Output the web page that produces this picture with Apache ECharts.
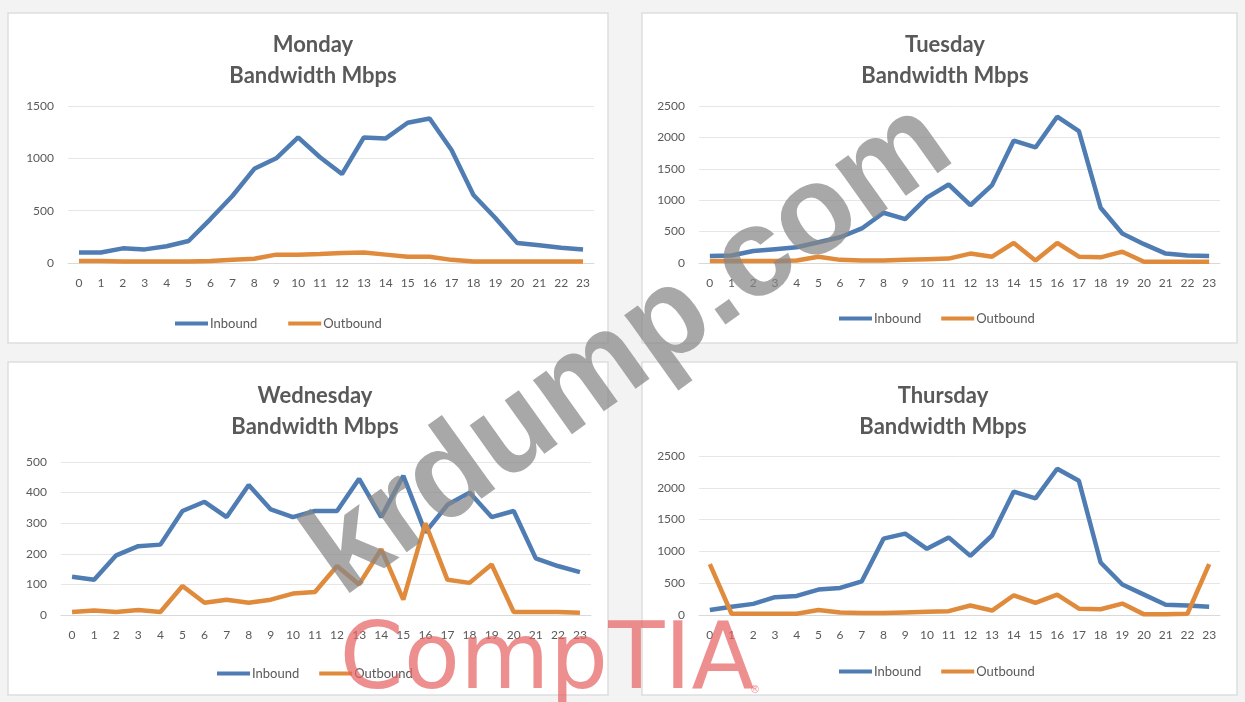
<!DOCTYPE html>
<html>
<head>
<meta charset="utf-8">
<script src="https://cdn.jsdelivr.net/npm/echarts@6/dist/echarts.min.js"></script>
<style>
  html, body { margin: 0; padding: 0; background: #f3f3f3; }
  #main { width: 1245px; height: 702px; }
</style>
</head>
<body>
<div id="main"></div>
<script>
// hours 0..23
var hours = ['0','1','2','3','4','5','6','7','8','9','10','11','12','13','14','15','16','17','18','19','20','21','22','23'];

var mondayIn  = [100,100,140,130,160,210,420,640,900,1000,1200,1010,850,1200,1190,1340,1380,1080,650,430,190,170,145,130];
var mondayOut = [20,20,15,15,15,15,20,30,40,80,80,85,95,100,80,60,60,30,15,15,15,15,15,15];

var tuesdayIn  = [110,120,190,220,250,330,410,550,800,700,1040,1250,920,1240,1950,1840,2330,2100,880,470,300,150,120,110];
var tuesdayOut = [30,30,30,30,40,100,50,40,40,50,60,70,150,100,320,40,320,100,90,180,20,20,20,20];

var wednesdayIn  = [125,115,195,225,230,340,370,320,425,345,320,340,340,445,320,455,270,360,400,320,340,185,160,140];
var wednesdayOut = [10,15,10,16,10,95,40,50,40,50,70,75,160,100,215,50,300,115,105,165,10,10,10,7];

var thursdayIn  = [80,130,175,280,300,400,425,530,1200,1280,1040,1220,930,1250,1940,1835,2300,2110,825,480,320,160,150,130];
var thursdayOut = [800,20,20,20,20,80,40,30,30,40,50,60,150,70,310,190,320,100,90,180,10,10,20,800];

var blue = '#4f7db3';
var orange = '#e08a3c';
var grey = '#595959';

var panels = [
    {name:'Monday',    inb:mondayIn,    outb:mondayOut,    max:1500, step:500, grid:{left:68, width:526, top:106, height:157}, box:[8,13,600,330],   legendLeft:170, legendTop:312, legendGap:31, titleX:308, titleTop:24},
    {name:'Tuesday',   inb:tuesdayIn,   outb:tuesdayOut,   max:2500, step:500, grid:{left:699, width:521, top:106, height:157}, box:[642,13,595,330], legendLeft:834, legendTop:307, legendGap:20, titleX:940, titleTop:24},
    {name:'Wednesday', inb:wednesdayIn, outb:wednesdayOut, max:500,  step:100, grid:{left:61, width:530, top:462, height:153}, box:[8,362,600,333],  legendLeft:212, legendTop:662, legendGap:20, titleX:310, titleTop:375},
    {name:'Thursday',  inb:thursdayIn,  outb:thursdayOut,  max:2500, step:500, grid:{left:699, width:521, top:456, height:159}, box:[642,362,595,333], legendLeft:834, legendTop:660, legendGap:20, titleX:938, titleTop:375}
];

var grids = [], xAxes = [], yAxes = [], series = [], titles = [], legends = [], boxes = [];

panels.forEach(function (p, i) {
    grids.push(p.grid);
    xAxes.push({
        type: 'category',
        gridIndex: i,
        data: hours,
        boundaryGap: true,
        axisLine: {lineStyle: {color: '#d9d9d9'}},
        axisTick: {show: false},
        axisLabel: {color: grey, fontSize: 12, margin: 14, interval: 0, fontFamily: 'Lato'}
    });
    yAxes.push({
        type: 'value',
        gridIndex: i,
        min: 0,
        max: p.max,
        interval: p.step,
        axisLine: {show: false},
        axisTick: {show: false},
        splitLine: {lineStyle: {color: '#e6e6e6'}},
        axisLabel: {
            color: grey, fontSize: 12, margin: 14, fontFamily: 'Lato',
            formatter: function (v) { return String(v); }
        }
    });
    series.push({
        name: 'Inbound', type: 'line', xAxisIndex: i, yAxisIndex: i,
        data: p.inb, symbol: 'none', lineStyle: {width: 4.5, color: blue}, itemStyle: {color: blue}
    });
    series.push({
        name: 'Outbound', type: 'line', xAxisIndex: i, yAxisIndex: i,
        data: p.outb, symbol: 'none', lineStyle: {width: 4.5, color: orange}, itemStyle: {color: orange}
    });
    titles.push({
        text: p.name + '\nBandwidth Mbps',
        left: p.titleX,
        top: p.titleTop,
        textAlign: 'center',
        textStyle: {color: grey, fontSize: 22, fontWeight: 'bold', lineHeight: 31, fontFamily: 'Lato'}
    });
    legends.push({
        data: ['Inbound', 'Outbound'],
        left: p.legendLeft,
        top: p.legendTop,
        itemWidth: 33,
        itemHeight: 4,
        itemGap: p.legendGap,
        icon: 'rect',
        textStyle: {color: grey, fontSize: 13, padding: [0, 0, 0, -3], fontFamily: 'Lato'}
    });
    boxes.push({
        type: 'rect', z: -10, silent: true,
        shape: {x: p.box[0], y: p.box[1], width: p.box[2], height: p.box[3]},
        style: {fill: '#ffffff', stroke: '#dedede', lineWidth: 1.5}
    });
});

// watermarks drawn over the picture
var marks = [
    {
        type: 'text', z: 100, silent: true,
        x: 630, y: 350, rotation: 0.62,
        style: {
            text: 'krdump.com', fill: 'rgba(135,135,135,0.72)',
            font: 'bold 126px "Liberation Sans", Arial, sans-serif',
            textAlign: 'center', textVerticalAlign: 'middle'
        }
    },
    {
        type: 'text', z: 100, silent: true,
        x: 547, y: 664,
        style: {
            text: 'CompTIA', fill: 'rgba(232,100,100,0.72)',
            font: '92px "DejaVu Sans", sans-serif',
            textAlign: 'center', textVerticalAlign: 'middle'
        }
    },
    {
        type: 'text', z: 100, silent: true,
        x: 750, y: 685,
        style: {
            text: '®', fill: 'rgba(232,100,100,0.72)',
            font: '10px "DejaVu Sans", sans-serif'
        }
    }
];

var chart = echarts.init(document.getElementById('main'));
chart.setOption({
    backgroundColor: '#f3f3f3',
    animation: false,
    title: titles,
    legend: legends,
    grid: grids,
    xAxis: xAxes,
    yAxis: yAxes,
    series: series,
    graphic: boxes.concat(marks)
});
</script>
</body>
</html>
